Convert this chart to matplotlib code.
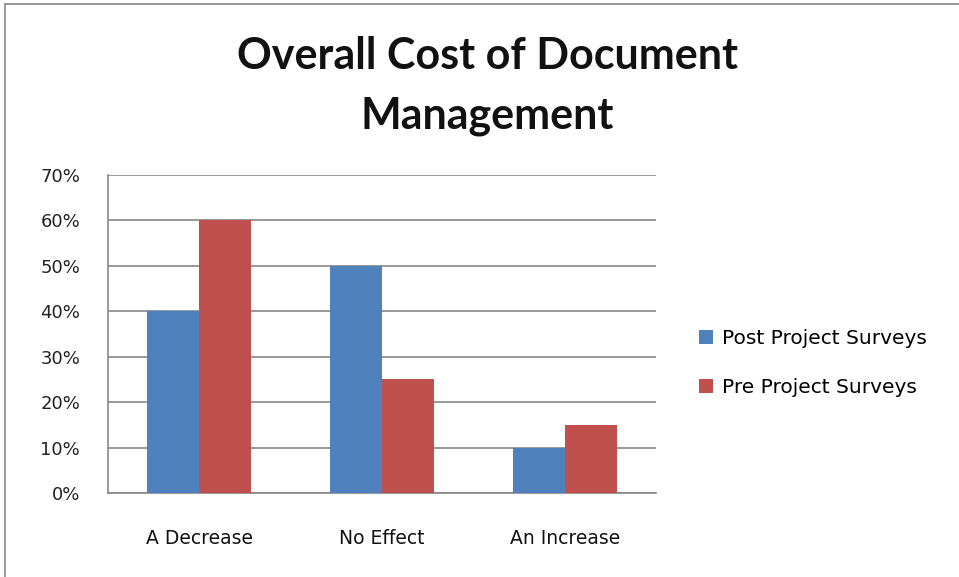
import matplotlib
matplotlib.use("Agg")
import matplotlib.pyplot as plt
import numpy as np
from matplotlib.lines import Line2D

categories = ["A Decrease", "No Effect", "An Increase"]
post_values = [40, 50, 10]
pre_values = [60, 25, 15]
series_names = ["Post Project Surveys", "Pre Project Surveys"]
y_ticks = [0, 10, 20, 30, 40, 50, 60, 70]

blue = "#4F81BD"
red = "#C0504D"
grid = "#868686"

fig = plt.figure(figsize=(9.59, 5.77), dpi=100)
ax = fig.add_axes([108/959, 1-493/577, (656-108)/959, (493-175)/577])

x = np.arange(len(categories))
w = 0.285
ax.bar(x - w/2, post_values, width=w, color=blue, label=series_names[0], zorder=3)
ax.bar(x + w/2, pre_values, width=w, color=red, label=series_names[1], zorder=3)

ax.set_xlim(-0.5, 2.5)
ax.set_ylim(0, 70)
ax.set_yticks(y_ticks)
ax.set_yticklabels([f"{v}%" for v in y_ticks], fontsize=13, family="DejaVu Sans", color="#222222")
ax.set_xticks(x)
ax.set_xticklabels(categories, fontsize=13.5, family="DejaVu Sans", color="#111111")
ax.tick_params(axis="y", length=0, pad=20)
ax.tick_params(axis="x", length=0, pad=26)
ax.yaxis.grid(True, color=grid, linewidth=1.2, zorder=0)
for s in ["top", "right"]:
    ax.spines[s].set_visible(False)
for s in ["left", "bottom"]:
    ax.spines[s].set_color(grid)
    ax.spines[s].set_linewidth(1.2)

fig.text(487/959, 1-86/577, "Overall Cost of Document\nManagement", ha="center", va="center",
         fontsize=31, fontweight="bold", family="Lato", linespacing=1.6, color="#111111")

leg = fig.legend(loc="center left", bbox_to_anchor=(681/959, 1-363/577), frameon=False,
                 prop={"family": "DejaVu Sans", "size": 14.5}, handlelength=0.7, handleheight=0.7,
                 handletextpad=0.45, labelspacing=1.5)

# chart border
fig.add_artist(Line2D([5/959, 5/959], [0, 1-4/577], transform=fig.transFigure, color="#888888", lw=1.2))
fig.add_artist(Line2D([5/959, 1], [1-4/577, 1-4/577], transform=fig.transFigure, color="#888888", lw=1.2))

fig.savefig("out.png", dpi=100)
